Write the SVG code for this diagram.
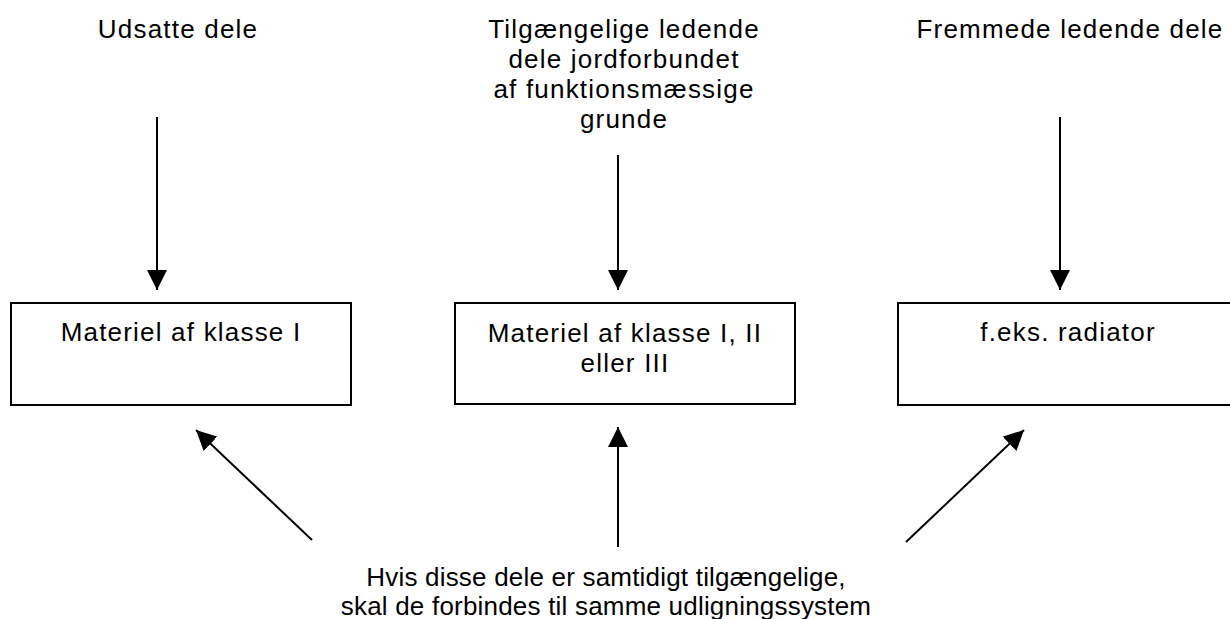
<svg xmlns="http://www.w3.org/2000/svg" width="1230" height="619" viewBox="0 0 1230 619">
<style>
text{font-family:"Liberation Sans",Arial,sans-serif;font-size:26px;fill:#000;text-anchor:middle;letter-spacing:1.2px}
.bt{letter-spacing:0.2px}
.box{fill:#fff;stroke:#000;stroke-width:2}
.con{stroke:#000;stroke-width:2;fill:none;marker-end:url(#ah)}
</style>
<defs>
<marker id="ah" markerUnits="userSpaceOnUse" viewBox="0 0 20 20" markerWidth="20" markerHeight="20" refX="20" refY="10" orient="auto">
<path d="M0,0 L20,10 L0,20 z" fill="#000"/>
</marker>
</defs>
<rect width="1230" height="619" fill="#fff"/>
<g id="lbl-udsatte"><text x="178" y="38">Udsatte dele</text></g>
<g id="lbl-tilg"><text x="624" y="38">Tilgængelige ledende</text><text x="624" y="68">dele jordforbundet</text><text x="624" y="98">af funktionsmæssige</text><text x="624" y="128">grunde</text></g>
<g id="lbl-fremmede"><text x="1070" y="38">Fremmede ledende dele</text></g>
<g id="box1"><rect class="box" x="11" y="303" width="340" height="102"/><text x="181" y="341">Materiel af klasse I</text></g>
<g id="box2"><rect class="box" x="455" y="303" width="340" height="101"/><text x="625" y="342">Materiel af klasse I, II</text><text x="625" y="372">eller III</text></g>
<g id="box3"><rect class="box" x="898" y="303" width="340" height="102"/><text x="1068" y="341">f.eks. radiator</text></g>
<g id="lbl-bottom"><text class="bt" x="606" y="586">Hvis disse dele er samtidigt tilgængelige,</text><text class="bt" x="606" y="615">skal de forbindes til samme udligningssystem</text></g>
<g id="connectors">
<line class="con" x1="157" y1="117" x2="157" y2="290"/>
<line class="con" x1="618" y1="155" x2="618" y2="290"/>
<line class="con" x1="1060" y1="117" x2="1060" y2="290"/>
<line class="con" x1="312" y1="540" x2="196" y2="430"/>
<line class="con" x1="618" y1="547" x2="618" y2="427"/>
<line class="con" x1="906" y1="542" x2="1024" y2="430"/>
</g>
</svg>
